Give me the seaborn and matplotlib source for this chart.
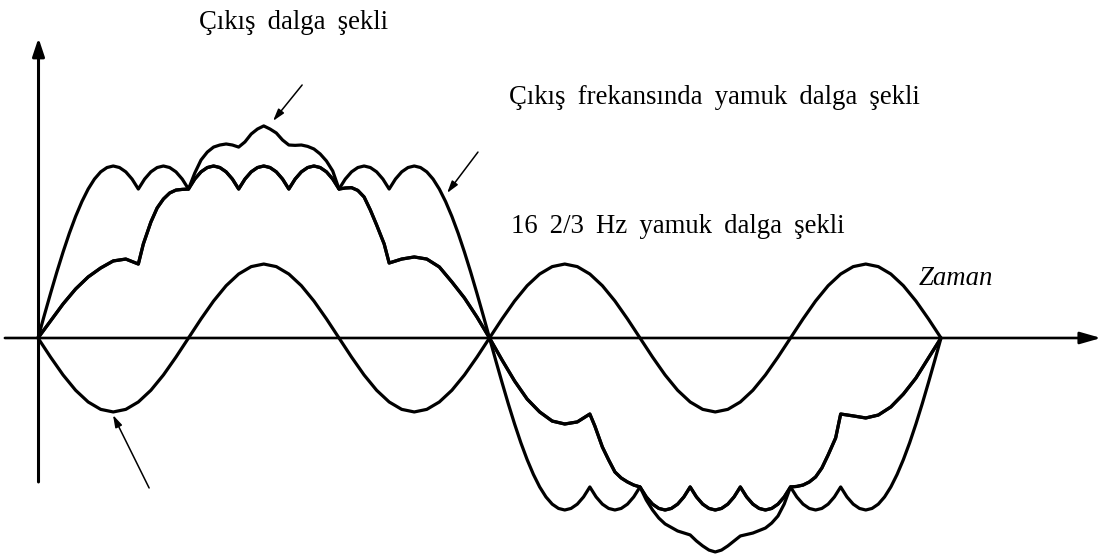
import matplotlib
matplotlib.use("Agg")
import matplotlib.pyplot as plt
import pandas as pd
import seaborn as sns

# ---------------------------------------------------------------------------
# Waveforms over one 16 2/3 Hz output period (angle in output degrees),
# amplitudes in % of the rippled trapezoid's peak.
# ---------------------------------------------------------------------------

# 50 Hz supply wave: three cycles per output period, sampled every 5 degrees
supply_theta = list(range(0, 361, 5))
supply_50hz = [
    0, -11.1, -21.5, -30.4, -37.2, -41.5, -43.0, -41.5, -37.2, -30.4, -21.5, -11.1,
    0, 11.1, 21.5, 30.4, 37.2, 41.5, 43.0, 41.5, 37.2, 30.4, 21.5, 11.1,
    0, -11.1, -21.5, -30.4, -37.2, -41.5, -43.0, -41.5, -37.2, -30.4, -21.5, -11.1,
    0, 11.1, 21.5, 30.4, 37.2, 41.5, 43.0, 41.5, 37.2, 30.4, 21.5, 11.1,
    0, -11.1, -21.5, -30.4, -37.2, -41.5, -43.0, -41.5, -37.2, -30.4, -21.5, -11.1,
    0, 11.1, 21.5, 30.4, 37.2, 41.5, 43.0, 41.5, 37.2, 30.4, 21.5, 11.1,
    0,
]

# Trapezoid at the output frequency, six-pulse ripple on the flat top,
# sampled every 2.5 degrees
ripple_theta = [i * 2.5 for i in range(145)]
ripple_trapezoid = [
    0, 13.1, 25.9, 38.3, 50.0, 60.9, 70.7, 79.3, 86.6, 92.4, 96.6, 99.1, 100,
    99.1, 96.6, 92.4, 86.6,
    92.4, 96.6, 99.1, 100, 99.1, 96.6, 92.4, 86.6,
    92.4, 96.6, 99.1, 100, 99.1, 96.6, 92.4, 86.6,
    92.4, 96.6, 99.1, 100, 99.1, 96.6, 92.4, 86.6,
    92.4, 96.6, 99.1, 100, 99.1, 96.6, 92.4, 86.6,
    92.4, 96.6, 99.1, 100, 99.1, 96.6, 92.4, 86.6,
    92.4, 96.6, 99.1, 100, 99.1, 96.6, 92.4, 86.6,
    79.3, 70.7, 60.9, 50.0, 38.3, 25.9, 13.1, 0,
    -13.1, -25.9, -38.3, -50.0, -60.9, -70.7, -79.3, -86.6, -92.4, -96.6, -99.1, -100,
    -99.1, -96.6, -92.4, -86.6,
    -92.4, -96.6, -99.1, -100, -99.1, -96.6, -92.4, -86.6,
    -92.4, -96.6, -99.1, -100, -99.1, -96.6, -92.4, -86.6,
    -92.4, -96.6, -99.1, -100, -99.1, -96.6, -92.4, -86.6,
    -92.4, -96.6, -99.1, -100, -99.1, -96.6, -92.4, -86.6,
    -92.4, -96.6, -99.1, -100, -99.1, -96.6, -92.4, -86.6,
    -92.4, -96.6, -99.1, -100, -99.1, -96.6, -92.4, -86.6,
    -79.3, -70.7, -60.9, -50.0, -38.3, -25.9, -13.1, 0,
]

# Flanks shared by the 16 2/3 Hz trapezoid and the output wave
flank_rise_theta = [0, 5, 10, 15, 20, 25, 30, 35, 40, 42, 45, 47.5, 50, 52.5,
                    55, 57.5, 60]
flank_rise = [0, 9.9, 19.8, 28.5, 35.5, 40.7, 44.8, 45.9, 43.0, 54.7, 67.4,
              75.6, 80.8, 84.3, 86.0, 86.4, 86.6]
flank_fall_theta = [120, 122.5, 125, 127.5, 130, 132.5, 135, 138, 140, 145, 150,
                    155, 160, 165, 170, 175, 180, 185, 190, 195, 200, 205, 210,
                    215, 220, 222, 225, 227.5, 230, 232.5, 235, 237.5, 240]
flank_fall = [86.6, 87.2, 87.4, 85.8, 82.0, 74.4, 65.7, 54.7, 43.6, 45.9, 47.1,
              45.9, 41.3, 32.6, 23.3, 12.2, 0, -12.8, -25.0, -35.5, -43.0, -48.3,
              -50.0, -48.8, -44.2, -51.2, -63.4, -70.9, -77.9, -81.4, -83.7,
              -85.5, -86.6]
flank_return_theta = [300, 302.5, 305, 307.5, 310, 312.5, 315, 318, 320, 325,
                      330, 335, 340, 345, 350, 355, 360]
flank_return = [-86.6, -86.3, -85.5, -83.7, -80.8, -75.6, -68.0, -58.1, -44.2,
                -45.3, -46.5, -44.8, -40.1, -32.6, -23.3, -11.6, 0]

# Crest of the output wave (positive and negative half)
crest_pos_theta = [62.5, 65, 67.5, 70, 72.5, 75, 77.5, 80, 82.5, 85, 87.5, 90,
                   92.5, 95, 97.5, 100, 102.5, 105, 107.5, 110, 112.5, 115, 117.5]
crest_pos = [95.9, 103.5, 108.1, 111.0, 112.2, 112.8, 112.2, 111.0, 114.0,
             118.6, 121.5, 123.3, 121.5, 119.2, 115.1, 112.2, 112.0, 112.2,
             111.4, 109.9, 107.0, 102.9, 97.1]
crest_neg_theta = [242.5, 245, 247.5, 250, 255, 260, 262.5, 265, 267.5, 270,
                   272.5, 275, 277.5, 280, 285, 290, 292.5, 295, 297.5]
crest_neg = [-94.2, -100.0, -104.7, -108.1, -112.2, -114.5, -118.0, -120.9,
             -123.3, -124.4, -123.3, -120.9, -118.0, -115.1, -113.4, -110.5,
             -107.6, -103.5, -96.5]

# Labels
gap = " \u2009"
label_output = gap.join(["Çıkış", "dalga", "şekli"])
label_out_freq = gap.join(["Çıkış", "frekansında", "yamuk", "dalga", "şekli"])
label_16hz = gap.join(["16", "2/3", "Hz", "yamuk", "dalga", "şekli"])
label_time = "Zaman"

# ---------------------------------------------------------------------------
# Assemble the long-form table
ripple = pd.DataFrame({"theta": ripple_theta, "value": ripple_trapezoid})
top_pos = ripple[(ripple.theta > 60) & (ripple.theta < 120)]
top_neg = ripple[(ripple.theta > 240) & (ripple.theta < 300)]

trap16 = pd.concat([
    pd.DataFrame({"theta": flank_rise_theta, "value": flank_rise}),
    top_pos,
    pd.DataFrame({"theta": flank_fall_theta, "value": flank_fall}),
    top_neg,
    pd.DataFrame({"theta": flank_return_theta, "value": flank_return}),
], ignore_index=True)

output = pd.concat([
    pd.DataFrame({"theta": flank_rise_theta, "value": flank_rise}),
    pd.DataFrame({"theta": crest_pos_theta, "value": crest_pos}),
    pd.DataFrame({"theta": flank_fall_theta, "value": flank_fall}),
    pd.DataFrame({"theta": crest_neg_theta, "value": crest_neg}),
    pd.DataFrame({"theta": flank_return_theta, "value": flank_return}),
], ignore_index=True)

waves = pd.concat([
    pd.DataFrame({"theta": supply_theta, "value": supply_50hz}).assign(curve="supply"),
    ripple.assign(curve="ripple"),
    trap16.assign(curve="trap16"),
    output.assign(curve="output"),
], ignore_index=True)

# ---------------------------------------------------------------------------
sns.set_theme(style="white")
plt.rcParams["font.family"] = ["Liberation Serif", "DejaVu Serif"]

W, H = 1104, 557
fig = plt.figure(figsize=(W / 100, H / 100), dpi=100)
ax = fig.add_axes([0, 0, 1, 1])
ax.set_xlim(-15.15, 424.98)
ax.set_ylim(-127.33, 196.51)
ax.set_axis_off()

sns.lineplot(
    data=waves, x="theta", y="value", units="curve", estimator=None, sort=False,
    color="black", linewidth=2.3, legend=False, ax=ax,
    solid_joinstyle="round", solid_capstyle="round",
)

# Coordinate axes with arrow heads
ax.annotate("", xy=(423.8, 0), xytext=(-13.2, 0),
            arrowprops=dict(arrowstyle="-|>,head_length=0.7,head_width=0.2",
                            mutation_scale=18, lw=1.9, color="black",
                            shrinkA=0, shrinkB=0))
ax.annotate("", xy=(0.2, 174.4), xytext=(0.2, -83.7),
            arrowprops=dict(arrowstyle="-|>,head_length=0.6,head_width=0.2",
                            mutation_scale=18, lw=2.2, color="black",
                            shrinkA=0, shrinkB=0))

# Pointer arrows
pointer = dict(arrowstyle="-|>,head_length=0.6,head_width=0.18",
               mutation_scale=12, lw=1.1, color="black", shrinkA=0, shrinkB=0)
ax.annotate("", xy=(93.7, 126.2), xytext=(105.3, 147.1), arrowprops=pointer)
ax.annotate("", xy=(163.1, 84.3), xytext=(175.4, 108.1), arrowprops=pointer)
ax.annotate("", xy=(29.9, -44.8), xytext=(44.3, -87.2), arrowprops=pointer)


# Labels placed in pixel space (left edge, baseline)
def put(text, x_px, y_px, **kw):
    fig.text(x_px / W, 1 - y_px / H, text, ha="left", va="baseline",
             fontsize=19.3, color="black", **kw)


put(label_output, 199, 29)
put(label_out_freq, 509, 104)
put(label_16hz, 511, 233)
put(label_time, 919, 285, style="italic")

fig.savefig("out.png", dpi=100)
